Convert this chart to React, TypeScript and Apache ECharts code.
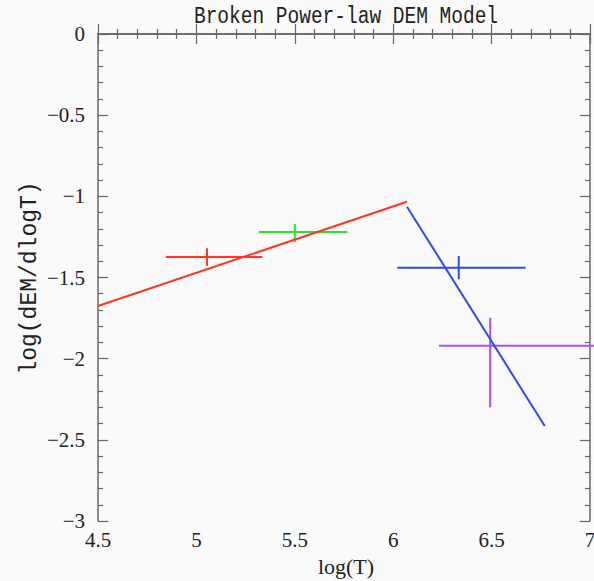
import React, { useEffect, useRef } from "react";
import * as echarts from "echarts";

const TITLE = "Broken Power-law DEM Model";
const X_LABEL = "log(T)";
const Y_LABEL = "log(dEM/dlogT)";

// model lines: [logT, logDEM]
const lowModel: number[][] = [
  [4.5, -1.676],
  [6.07, -1.033],
];
const highModel: number[][] = [
  [6.07, -1.064],
  [6.77, -2.415],
];

// error bars: [x, y, xLow, xHigh, yLow, yHigh]
const redPoint = [5.054, -1.374, 4.845, 5.335, -1.428, -1.32];
const greenPoint = [5.5, -1.22, 5.317, 5.767, -1.283, -1.171];
const bluePoint = [6.333, -1.44, 6.021, 6.673, -1.511, -1.368];
const purplePoint = [6.493, -1.92, 6.233, 7.02, -2.3, -1.748];

const RED = "#ff3526";
const GREEN = "#2ee02e";
const BLUE = "#2a4cf0";
const PURPLE = "#a452f2";

const AXIS_COLOR = "#676767";
const SERIF = "'Liberation Serif', 'DejaVu Serif', serif";
const MONO = "'Liberation Mono', 'DejaVu Sans Mono', monospace";

function fmtTick(v: number): string {
  const s = String(Math.round(v * 10) / 10);
  return s.replace("-", "\u2212");
}

export default function App() {
  const ref = useRef<HTMLDivElement>(null);
  useEffect(() => {
    document.body.style.margin = "0";
    document.body.style.background = "#fafafa";
    const chart = echarts.init(ref.current!, null, { renderer: "svg" });

    const errSeries = (pt: number[], color: string) => ({
      type: "custom",
      clip: false,
      data: [pt],
      encode: { x: 0, y: 1 },
      renderItem: (params: any, api: any) => {
        const x = api.value(0);
        const y = api.value(1);
        const xl = api.coord([api.value(2), y]);
        const xh = api.coord([api.value(3), y]);
        const yl = api.coord([x, api.value(4)]);
        const yh = api.coord([x, api.value(5)]);
        const st = { stroke: color, lineWidth: 2 };
        return {
          type: "group",
          children: [
            { type: "line", shape: { x1: xl[0], y1: xl[1], x2: xh[0], y2: xh[1] }, style: st },
            { type: "line", shape: { x1: yl[0], y1: yl[1], x2: yh[0], y2: yh[1] }, style: st },
          ],
        };
      },
    });

    const axisCommon = {
      type: "value",
      axisLine: { show: true, lineStyle: { color: AXIS_COLOR, width: 1.5 } },
      axisTick: { show: true, inside: true, length: 10, lineStyle: { color: AXIS_COLOR, width: 1.2 } },
      minorTick: { show: true, splitNumber: 5, length: 5, lineStyle: { color: AXIS_COLOR, width: 1.2 } },
      splitLine: { show: false },
      minorSplitLine: { show: false },
    };

    const labelStyle = {
      show: true,
      fontFamily: SERIF,
      fontSize: 21,
      color: "#222",
      formatter: fmtTick,
    };

    chart.setOption({
      animation: false,
      backgroundColor: "#fafafa",
      grid: {
        left: 98,
        right: 4,
        top: 34,
        bottom: 60,
        containLabel: false,
        outerBoundsMode: "none",
      },
      xAxis: [
        {
          ...axisCommon,
          position: "bottom",
          min: 4.5,
          max: 7,
          interval: 0.5,
          axisLabel: { ...labelStyle, margin: 8 },
        },
        {
          ...axisCommon,
          position: "top",
          min: 4.5,
          max: 7,
          interval: 0.5,
          axisLabel: { show: false },
        },
      ],
      yAxis: [
        {
          ...axisCommon,
          position: "left",
          min: -3,
          max: 0,
          interval: 0.5,
          axisLabel: { ...labelStyle, margin: 13 },
        },
        {
          ...axisCommon,
          position: "right",
          min: -3,
          max: 0,
          interval: 0.5,
          axisLabel: { show: false },
        },
      ],
      graphic: [
        {
          type: "text",
          x: 346,
          y: 17,
          scaleY: 1.25,
          style: {
            text: TITLE,
            fontFamily: MONO,
            fontSize: 19.5,
            fill: "#222",
            textAlign: "center",
            textVerticalAlign: "middle",
          },
        },
        {
          type: "text",
          x: 346,
          y: 566,
          style: {
            text: X_LABEL,
            fontFamily: SERIF,
            fontSize: 22,
            fill: "#222",
            textAlign: "center",
            textVerticalAlign: "middle",
          },
        },
        {
          type: "text",
          x: 30,
          y: 278,
          rotation: Math.PI / 2,
          style: {
            text: Y_LABEL,
            fontFamily: MONO,
            fontSize: 23,
            fill: "#222",
            textAlign: "center",
            textVerticalAlign: "middle",
          },
        },
      ],
      series: [
        {
          type: "line",
          data: lowModel,
          symbol: "none",
          lineStyle: { color: RED, width: 2 },
        },
        {
          type: "line",
          data: highModel,
          symbol: "none",
          lineStyle: { color: BLUE, width: 2 },
        },
        errSeries(redPoint, RED),
        errSeries(greenPoint, GREEN),
        errSeries(bluePoint, BLUE),
        errSeries(purplePoint, PURPLE),
      ],
    });
    return () => chart.dispose();
  }, []);
  return (
    <div
      ref={ref}
      style={{ position: "fixed", left: 0, top: 0, width: 594, height: 581 }}
    />
  );
}
